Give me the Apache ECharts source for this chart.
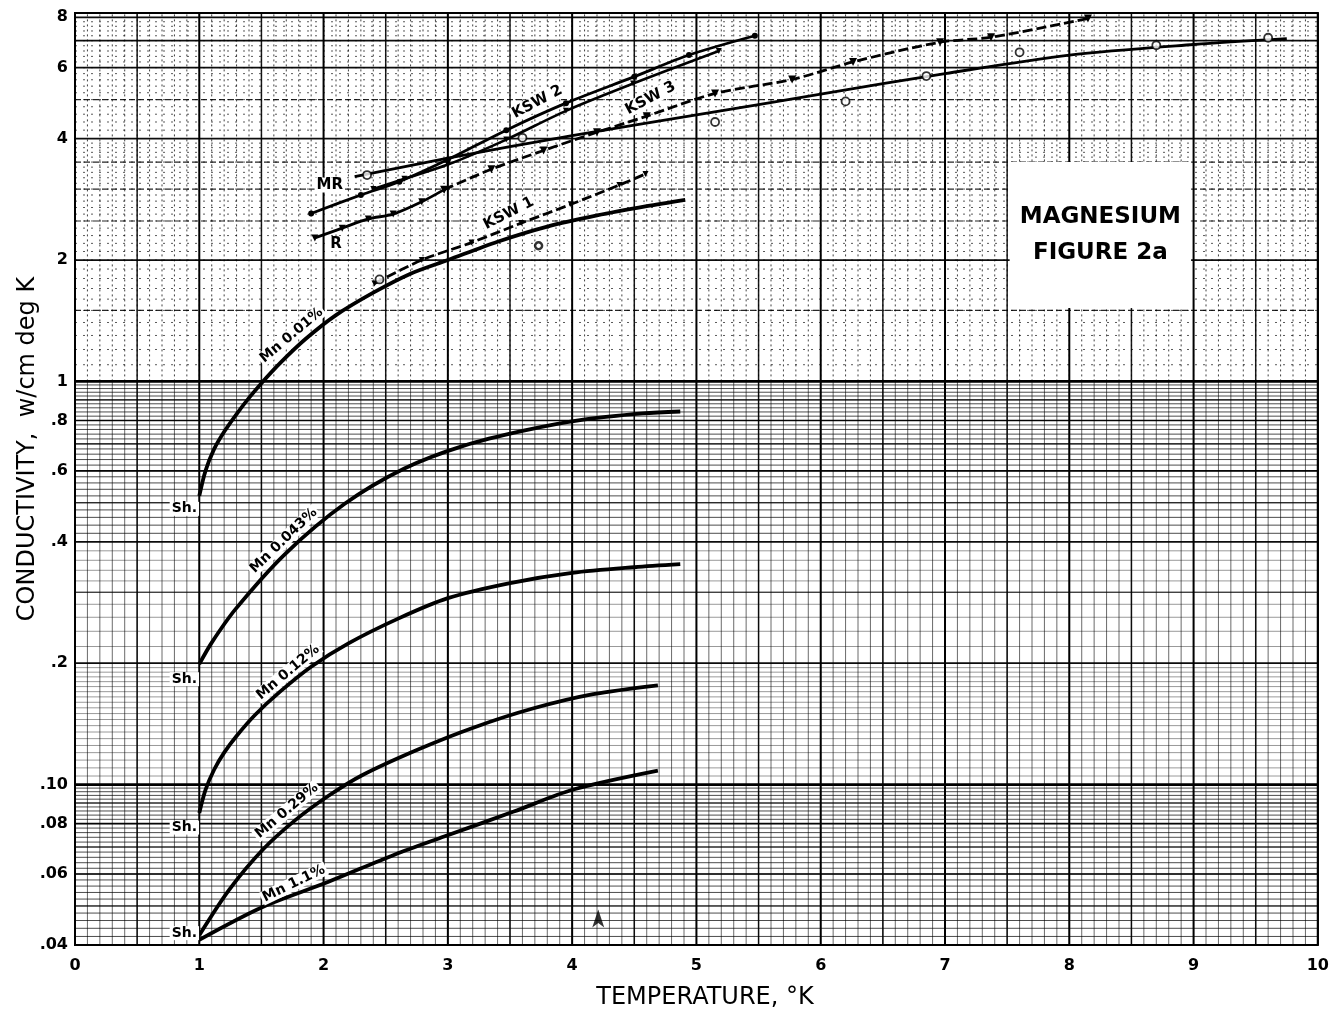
<!DOCTYPE html>
<html>
<head>
<meta charset="utf-8">
<title>Magnesium - Figure 2a</title>
<script src="https://cdn.jsdelivr.net/npm/echarts@6/dist/echarts.min.js"></script>
<style>
  html, body { margin: 0; padding: 0; background: #fff; }
  #chart { width: 1332px; height: 1019px; }
</style>
</head>
<body>
<div id="chart"></div>
<script>
// tick labels
var xTickValues = [0, 1, 2, 3, 4, 5, 6, 7, 8, 9, 10];
var yTickValues = [0.04, 0.06, 0.08, 0.1, 0.2, 0.4, 0.6, 0.8, 1, 2, 4, 6, 8];
var yTickText = ['.04', '.06', '.08', '.10', '.2', '.4', '.6', '.8', '1', '2', '4', '6', '8'];

// Sh. curves (temperature K, conductivity w/cm deg K)
var mn001 = [[1.0, 0.52], [1.05, 0.6], [1.12, 0.68], [1.2, 0.75], [1.3, 0.83], [1.4, 0.91], [1.5, 0.99], [1.65, 1.11], [1.85, 1.27], [2.1, 1.46], [2.4, 1.66], [2.7, 1.85], [3.0, 2.0], [3.4, 2.22], [3.8, 2.42], [4.2, 2.58], [4.6, 2.72], [4.91, 2.82]];
var mn0043 = [[1.0, 0.199], [1.1, 0.225], [1.29, 0.272], [1.69, 0.373], [2.17, 0.497], [2.65, 0.608], [3.13, 0.693], [3.61, 0.755], [4.09, 0.804], [4.57, 0.833], [4.87, 0.842]];
var mn012 = [[1.0, 0.085], [1.05, 0.097], [1.12, 0.109], [1.2, 0.12], [1.3, 0.132], [1.45, 0.149], [1.65, 0.17], [1.9, 0.196], [2.2, 0.224], [2.6, 0.258], [3.0, 0.29], [3.5, 0.316], [4.0, 0.335], [4.5, 0.346], [4.87, 0.352]];
var mn029 = [[1.0, 0.0423], [1.24, 0.0548], [1.51, 0.0689], [1.77, 0.0815], [2.04, 0.0938], [2.31, 0.1055], [2.76, 0.1222], [3.21, 0.1386], [3.69, 0.1546], [4.17, 0.1676], [4.69, 0.1763]];
var mn11 = [[1.0, 0.0412], [1.51, 0.0497], [2.04, 0.0574], [2.57, 0.067], [2.97, 0.0743], [3.53, 0.0857], [4.01, 0.0972], [4.69, 0.1083]];

// upper group
var mrLine = [[2.25, 3.22], [3.0, 3.58], [4.0, 4.07], [5.0, 4.58], [6.0, 5.16], [7.0, 5.8], [8.0, 6.45], [9.0, 6.85], [9.75, 7.08]];
var mrCircles = [[2.35, 3.25], [3.6, 4.02], [5.15, 4.4], [6.2, 4.95], [6.85, 5.72], [7.6, 6.55], [8.7, 6.82], [9.6, 7.12]];
var rLine = [[1.93, 2.27], [2.15, 2.4], [2.36, 2.53], [2.56, 2.6], [2.79, 2.79], [2.97, 2.99]];
var ksw3 = [[2.97, 2.99], [3.35, 3.36], [3.77, 3.74], [4.2, 4.15], [4.6, 4.55], [5.15, 5.18], [5.77, 5.61], [6.26, 6.2], [6.96, 6.94], [7.37, 7.14], [8.15, 7.95]];
var ksw2a = [[1.9, 2.61], [2.3, 2.9], [2.61, 3.13], [3.0, 3.55], [3.47, 4.2], [3.95, 4.9], [4.5, 5.7], [4.94, 6.45], [5.47, 7.2]];
var ksw2b = [[2.4, 3.0], [2.65, 3.18], [3.0, 3.45], [3.47, 3.98], [3.95, 4.69], [4.49, 5.48], [5.18, 6.6]];
var ksw1 = [[2.41, 1.75], [2.79, 2.0], [3.19, 2.21], [3.59, 2.47], [3.99, 2.75], [4.38, 3.07], [4.59, 3.27]];
var ksw1Circles = [[2.45, 1.79]];
var loosePoint = [[3.73, 2.17]];
var arrowMark = [[4.21, 0.049]];

// text written on the paper: [text, T, value, rotation deg, font size, lift px]
var curveLabels = [
    ['Mn 0.01%', 1.80, 1.24, 40, 14, 11],
    ['Mn 0.043%', 1.74, 0.385, 44, 14, 11],
    ['Mn 0.12%', 1.77, 0.181, 40, 14, 11],
    ['Mn 0.29%', 1.76, 0.082, 40, 14, 11],
    ['Mn 1.1%', 1.80, 0.0537, 26, 14, 11],
    ['Sh.', 0.88, 0.483, 0, 14, 0],
    ['Sh.', 0.88, 0.1825, 0, 14, 0],
    ['Sh.', 0.88, 0.0782, 0, 14, 0],
    ['Sh.', 0.88, 0.0428, 0, 14, 0],
    ['MR', 2.05, 3.07, 0, 15, 0],
    ['R', 2.1, 2.195, 0, 15, 0],
    ['KSW 2', 3.72, 4.93, 28, 15, 0],
    ['KSW 3', 4.63, 5.04, 28, 15, 0],
    ['KSW 1', 3.49, 2.61, 27, 15, 0]
];

// graph paper rulings
function steps(a, b, d) {
    var out = [];
    var n = Math.round((b - a) / d);
    for (var i = 0; i <= n; i++) out.push(+(a + i * d).toFixed(4));
    return out;
}
var xWhole = steps(0, 10, 1);
var xHalf = steps(0.5, 9.5, 1);
var xTenth = steps(0.1, 9.9, 0.1);
var yHeavy = [0.1, 1];
var yMajor = [0.06, 0.08, 0.2, 0.4, 0.6, 0.8, 2, 4, 6, 7, 8];
var yMid = [0.05, 0.07, 0.09, 0.3, 0.5, 0.7, 0.9];
var yUpperDash = [1.5, 2.5, 3, 3.5, 5];
var yFineDense = steps(0.042, 0.098, 0.002).concat(steps(0.42, 0.98, 0.02));
var yFineLight = steps(0.105, 0.195, 0.005).concat(steps(0.22, 0.38, 0.02));
var yDots = steps(1.1, 3.9, 0.1).concat(steps(4.2, 7.8, 0.2));

var X_MIN = 0, X_MAX = 10, Y_MIN = 0.04, Y_MAX = 8.2;

function hRule(values, width, alpha, dash) {
    return {
        type: 'custom', silent: true, z: 1, animation: false,
        data: values.map(function (v) { return [X_MIN, v]; }),
        renderItem: function (params, api) {
            var a = api.coord([X_MIN, api.value(1)]);
            var b = api.coord([X_MAX, api.value(1)]);
            return {
                type: 'line',
                shape: { x1: a[0], y1: a[1], x2: b[0], y2: b[1] },
                style: { stroke: 'rgba(0,0,0,' + alpha + ')', lineWidth: width, lineDash: dash || null }
            };
        }
    };
}

function vRule(values, y0, y1, width, alpha, dash) {
    return {
        type: 'custom', silent: true, z: 1, animation: false,
        data: values.map(function (t) { return [t, 1]; }),
        renderItem: function (params, api) {
            var a = api.coord([api.value(0), y0]);
            var b = api.coord([api.value(0), y1]);
            return {
                type: 'line',
                shape: { x1: a[0], y1: a[1], x2: b[0], y2: b[1] },
                style: { stroke: 'rgba(0,0,0,' + alpha + ')', lineWidth: width, lineDash: dash || null }
            };
        }
    };
}

function curve(name, data, opts) {
    opts = opts || {};
    return {
        type: 'line', name: name, data: data, z: 5,
        smooth: opts.smooth === undefined ? 0.3 : opts.smooth,
        showSymbol: !!opts.symbol,
        symbol: opts.symbol || 'none',
        symbolSize: opts.symbolSize || 7,
        symbolRotate: opts.symbolRotate || 0,
        itemStyle: { color: '#000' },
        lineStyle: { color: '#000', width: opts.width || 3.8, type: opts.dash || 'solid' }
    };
}

var chart = echarts.init(document.getElementById('chart'), null, { renderer: 'canvas' });

var series = [
    hRule(yFineLight, 0.8, 0.5),
    hRule(yFineDense, 1, 0.7),
    hRule(yDots, 1, 0.65, [2, 6]),
    hRule(yUpperDash, 1.2, 0.85, [6, 3]),
    hRule(yMid, 1.1, 0.85),
    hRule(yMajor, 1.7, 0.95),
    hRule(yHeavy, 2.8, 1),
    vRule(xTenth, Y_MIN, 1, 0.9, 0.65),
    vRule(xTenth, 1, Y_MAX, 1, 0.75, [2, 3]),
    vRule(xHalf, Y_MIN, Y_MAX, 1.5, 0.9),
    vRule(xWhole, Y_MIN, Y_MAX, 2, 1),

    curve('Mn 0.01%', mn001),
    curve('Mn 0.043%', mn0043),
    curve('Mn 0.12%', mn012),
    curve('Mn 0.29%', mn029),
    curve('Mn 1.1%', mn11),
    curve('MR', mrLine, { width: 2.8 }),
    curve('R', rLine, { width: 2.8, symbol: 'triangle', symbolRotate: 180, symbolSize: 7 }),
    curve('KSW 3', ksw3, { width: 2.8, dash: [10, 4], symbol: 'triangle', symbolRotate: 180, symbolSize: 8 }),
    curve('KSW 2a', ksw2a, { width: 2.8, symbol: 'circle', symbolSize: 6 }),
    curve('KSW 2b', ksw2b, { width: 2.6, symbol: 'triangle', symbolRotate: 180, symbolSize: 6 }),
    curve('KSW 1', ksw1, { width: 2.8, dash: [10, 4], symbol: 'triangle', symbolRotate: 180, symbolSize: 6 }),
    {
        type: 'scatter', name: 'MR points', data: mrCircles.concat(ksw1Circles), z: 6,
        symbol: 'circle', symbolSize: 8,
        itemStyle: { color: '#fff', borderColor: '#000', borderWidth: 1.8 }
    },
    {
        type: 'scatter', name: 'a', data: loosePoint, z: 6,
        symbol: 'circle', symbolSize: 7,
        itemStyle: { color: '#fff', borderColor: '#000', borderWidth: 2.5 }
    },
    {
        type: 'scatter', name: 'arrow', data: arrowMark, z: 6,
        symbol: 'arrow', symbolSize: [9, 18],
        itemStyle: { color: '#000' }
    }
];

var tickFont = { color: '#000', fontSize: 16, fontWeight: 'bold', fontFamily: 'DejaVu Sans' };

chart.setOption({
    animation: false,
    backgroundColor: '#fff',
    grid: { left: 75, right: 7, top: 13, bottom: 74, show: true, borderColor: '#000', borderWidth: 2 },
    xAxis: {
        type: 'value', min: X_MIN, max: X_MAX, interval: 1,
        axisLine: { show: false }, axisTick: { show: false }, splitLine: { show: false },
        axisLabel: Object.assign({ margin: 13, customValues: xTickValues }, tickFont)
    },
    yAxis: {
        type: 'log', logBase: 10, min: Y_MIN, max: Y_MAX,
        axisLine: { show: false }, axisTick: { show: false }, splitLine: { show: false },
        axisLabel: Object.assign({
            margin: 7,
            customValues: yTickValues,
            formatter: function (v) {
                for (var i = 0; i < yTickValues.length; i++) {
                    if (Math.abs(v / yTickValues[i] - 1) < 1e-6) return yTickText[i];
                }
                return '';
            }
        }, tickFont)
    },
    series: series
});

// place annotations through the chart's own scales
var graphics = [];
curveLabels.forEach(function (l) {
    var p = chart.convertToPixel({ gridIndex: 0 }, [l[1], l[2]]);
    var rot = l[3] * Math.PI / 180;
    var lift = l[5];
    graphics.push({
        type: 'text',
        x: p[0] - lift * Math.sin(rot),
        y: p[1] - lift * Math.cos(rot),
        rotation: rot, z: 20,
        style: {
            text: l[0], fill: '#000', font: 'bold ' + l[4] + 'px "DejaVu Sans"',
            align: 'center', verticalAlign: 'middle',
            backgroundColor: '#fff', padding: [0, 2]
        }
    });
});

var boxA = chart.convertToPixel({ gridIndex: 0 }, [7.52, 3.5]);
var boxB = chart.convertToPixel({ gridIndex: 0 }, [8.98, 1.52]);
graphics.push({
    type: 'rect', z: 15,
    shape: { x: boxA[0], y: boxA[1], width: boxB[0] - boxA[0], height: boxB[1] - boxA[1] },
    style: { fill: '#fff' }
});
var boxCx = (boxA[0] + boxB[0]) / 2;
graphics.push({
    type: 'text', x: boxCx, y: 217, z: 16,
    style: { text: 'MAGNESIUM', fill: '#000', font: 'bold 23px "DejaVu Sans"', align: 'center', verticalAlign: 'middle' }
});
graphics.push({
    type: 'text', x: boxCx, y: 253, z: 16,
    style: { text: 'FIGURE 2a', fill: '#000', font: 'bold 23px "DejaVu Sans"', align: 'center', verticalAlign: 'middle' }
});
graphics.push({
    type: 'text', x: 705, y: 998, z: 16,
    style: { text: 'TEMPERATURE, °K', fill: '#000', font: '24px "DejaVu Sans"', align: 'center', verticalAlign: 'middle' }
});
graphics.push({
    type: 'text', x: 28, y: 449, z: 16, rotation: Math.PI / 2,
    style: { text: 'CONDUCTIVITY,  w/cm deg K', fill: '#000', font: '24px "DejaVu Sans"', align: 'center', verticalAlign: 'middle' }
});

chart.setOption({ graphic: graphics });
</script>
</body>
</html>
